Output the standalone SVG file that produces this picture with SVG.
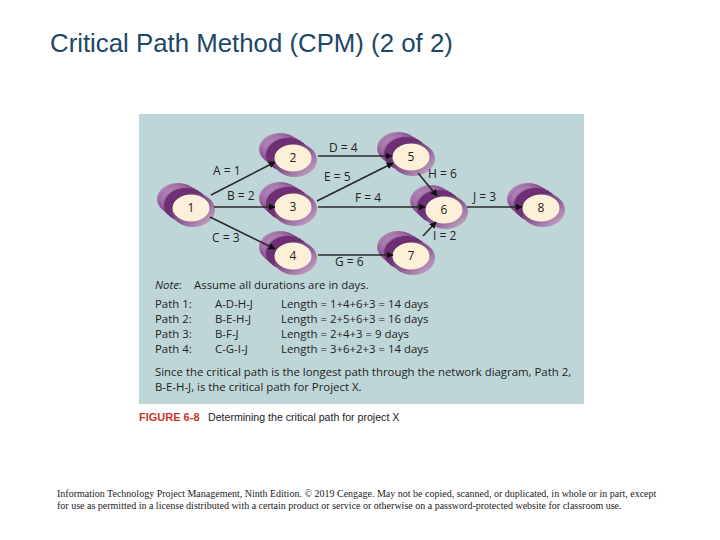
<svg xmlns="http://www.w3.org/2000/svg" xmlns:xlink="http://www.w3.org/1999/xlink" width="720" height="540" viewBox="0 0 720 540">
<style>
.title{font-family:"Liberation Sans",Arial,sans-serif;font-size:25.8px;fill:#1d4766}
.lbl{font-family:"Open Sans","Liberation Sans",sans-serif;font-size:12px;fill:#222}
.num{font-family:"Open Sans","Liberation Sans",sans-serif;font-size:12px;fill:#222;text-anchor:middle}
.txt{font-family:"Open Sans","Liberation Sans",sans-serif;font-size:11.4px;fill:#222}
.cap{font-family:"Liberation Sans",Arial,sans-serif;font-size:10.6px;fill:#222}
.capred{font-family:"Liberation Sans",Arial,sans-serif;font-size:11px;fill:#c8352b;font-weight:bold}
.foot{font-family:"Liberation Serif","Times New Roman",serif;font-size:10px;fill:#222}
.edge{stroke:#2a2a2a;stroke-width:1.6;fill:none;marker-end:url(#arr)}
</style>
<defs>
<marker id="arr" viewBox="0 0 10 10" refX="9" refY="5" markerWidth="7" markerHeight="7" markerUnits="userSpaceOnUse" orient="auto">
<path d="M0,0 L10,5 L0,10 z" fill="#111"/>
</marker>
<linearGradient id="back" x1="0" y1="0" x2="1" y2="1">
<stop offset="0" stop-color="#c9a9ce"/>
<stop offset="0.4" stop-color="#8a4d90"/>
<stop offset="1" stop-color="#4a1650"/>
</linearGradient>
<linearGradient id="ring" x1="0" y1="0" x2="1" y2="1">
<stop offset="0" stop-color="#4a1650"/>
<stop offset="0.55" stop-color="#8f5f96"/>
<stop offset="1" stop-color="#d2b9d4"/>
</linearGradient>
<g id="nodeShape">
<ellipse cx="-13" cy="-9" rx="21" ry="16" fill="url(#back)"/>
<ellipse cx="-9" cy="-6" rx="21.5" ry="16.5" fill="url(#back)"/>
<ellipse cx="-5" cy="-3" rx="22" ry="17" fill="#6e2f75"/>
<ellipse cx="2" cy="2" rx="22" ry="17" fill="url(#ring)"/>
<ellipse cx="0" cy="0" rx="18.5" ry="13.5" fill="#fcf0d8"/>
</g>
</defs>
<rect x="0" y="0" width="720" height="540" fill="#fff"/>
<text class="title" x="50" y="52">Critical Path Method (CPM) (2 of 2)</text>
<rect x="139" y="114" width="445" height="290" fill="#bfd6d8"/>
<g id="n1"><use xlink:href="#nodeShape" x="191" y="208"/><text class="num" x="191" y="212">1</text></g>
<g id="n2"><use xlink:href="#nodeShape" x="293" y="158"/><text class="num" x="293" y="162">2</text></g>
<g id="n3"><use xlink:href="#nodeShape" x="293" y="207"/><text class="num" x="293" y="211">3</text></g>
<g id="n4"><use xlink:href="#nodeShape" x="293" y="256"/><text class="num" x="293" y="260">4</text></g>
<g id="n5"><use xlink:href="#nodeShape" x="411" y="157"/><text class="num" x="411" y="161">5</text></g>
<g id="n6"><use xlink:href="#nodeShape" x="444" y="210"/><text class="num" x="444" y="214">6</text></g>
<g id="n7"><use xlink:href="#nodeShape" x="411" y="256"/><text class="num" x="411" y="260">7</text></g>
<g id="n8"><use xlink:href="#nodeShape" x="541" y="208"/><text class="num" x="541" y="212">8</text></g>
<g id="connectors">
<line class="edge" x1="211" y1="195" x2="275" y2="162"/>
<line class="edge" x1="214" y1="207" x2="275" y2="207"/>
<line class="edge" x1="210" y1="217" x2="275" y2="249"/>
<line class="edge" x1="318" y1="156" x2="392" y2="156"/>
<line class="edge" x1="317" y1="201" x2="393" y2="163"/>
<line class="edge" x1="318" y1="207" x2="425" y2="207"/>
<line class="edge" x1="318" y1="255" x2="393" y2="255"/>
<line class="edge" x1="418" y1="173" x2="437" y2="196"/>
<line class="edge" x1="423" y1="236" x2="436" y2="222"/>
<line class="edge" x1="467" y1="207" x2="522" y2="207"/>
<text class="lbl" x="213" y="175">A = 1</text>
<text class="lbl" x="227" y="200">B = 2</text>
<text class="lbl" x="212" y="242">C = 3</text>
<text class="lbl" x="329" y="152">D = 4</text>
<text class="lbl" x="324" y="181">E = 5</text>
<text class="lbl" x="355" y="202">F = 4</text>
<text class="lbl" x="335" y="266">G = 6</text>
<text class="lbl" x="428" y="178">H = 6</text>
<text class="lbl" x="473" y="201">J = 3</text>
<text class="lbl" x="433" y="240">I = 2</text>
</g>
<g id="note">
<text class="txt" x="155" y="289"><tspan font-style="italic">Note</tspan>:</text>
<text class="txt" x="194" y="289">Assume all durations are in days.</text>
<text class="txt" x="155" y="308">Path 1:</text><text class="txt" x="215" y="308">A-D-H-J</text><text class="txt" x="281" y="308">Length = 1+4+6+3 = 14 days</text>
<text class="txt" x="155" y="323">Path 2:</text><text class="txt" x="215" y="323">B-E-H-J</text><text class="txt" x="281" y="323">Length = 2+5+6+3 = 16 days</text>
<text class="txt" x="155" y="338">Path 3:</text><text class="txt" x="215" y="338">B-F-J</text><text class="txt" x="281" y="338">Length = 2+4+3 = 9 days</text>
<text class="txt" x="155" y="353">Path 4:</text><text class="txt" x="215" y="353">C-G-I-J</text><text class="txt" x="281" y="353">Length = 3+6+2+3 = 14 days</text>
<text class="txt" x="155" y="376">Since the critical path is the longest path through the network diagram, Path 2,</text>
<text class="txt" x="155" y="391">B-E-H-J, is the critical path for Project X.</text>
</g>
<text class="capred" x="139" y="421">FIGURE 6-8</text>
<text class="cap" x="208" y="421">Determining the critical path for project X</text>
<text class="foot" x="57" y="497">Information Technology Project Management, Ninth Edition. © 2019 Cengage. May not be copied, scanned, or duplicated, in whole or in part, except</text>
<text class="foot" x="57" y="509">for use as permitted in a license distributed with a certain product or service or otherwise on a password-protected website for classroom use.</text>
</svg>
